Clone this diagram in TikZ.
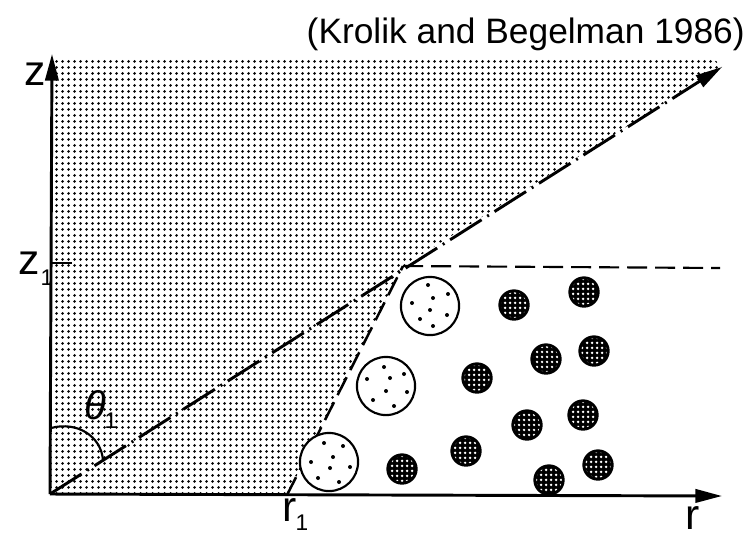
\documentclass[tikz,border=0pt]{standalone}
\usepackage{fontspec}
\setmainfont{Liberation Sans}
\usetikzlibrary{patterns,arrows.meta}

% fine dot screen for the shaded wedge
\pgfdeclarepatternformonly{stipple}{\pgfpointorigin}{\pgfqpoint{4.5pt}{4.5pt}}{\pgfqpoint{4.5pt}{4.5pt}}{%
  \pgfpathcircle{\pgfqpoint{2.25pt}{2.25pt}}{1.25pt}\pgfusepath{fill}}
% light holes inside the dense clouds
\pgfdeclarepatternformonly{holes}{\pgfpointorigin}{\pgfqpoint{3.4pt}{3.4pt}}{\pgfqpoint{3.4pt}{3.4pt}}{%
  \pgfpathcircle{\pgfqpoint{1.7pt}{1.7pt}}{1.1pt}\pgfusepath{fill}}

\begin{document}
\begin{tikzpicture}[x=0.75pt,y=-0.75pt,
  axis/.style={line width=2.2pt,-{Triangle[length=20pt,width=10pt]}},
  sightline/.style={line width=2.2pt,dash pattern=on 28pt off 5pt on 1.5pt off 5pt,
                    -{Triangle[length=20pt,width=10pt]}},
  edgeline/.style={line width=1.9pt,dash pattern=on 15pt off 6pt},
  levelline/.style={line width=1.6pt,dash pattern=on 15pt off 6pt},
  opencloud/.style={line width=1.6pt,fill=white},
  darkcloud/.style={line width=1.5pt,fill=black},
  lbl/.style={font=\fontsize{32}{32}\selectfont,inner sep=0pt},
  sub/.style={font=\fontsize{17}{17}\selectfont,inner sep=0pt}]

\useasboundingbox (0,0) rectangle (748,537);

% key points
\coordinate (O) at (50,494);
\coordinate (Ztip) at (52,54);
\coordinate (Rtip) at (722,496);
\coordinate (Dtip) at (722,67);
\coordinate (P) at (403,266);
\coordinate (R1) at (287,495);
\coordinate (Hend) at (720,268);
\coordinate (Z1) at (51,263);
\coordinate (Z1t) at (72,263);
\coordinate (Th0) at (51,428);
\coordinate (Th1) at (103,460);

% shaded region
\fill[pattern=stipple] (O) -- (51,57) -- (712,57) -- (Dtip) -- (P) -- (R1) -- cycle;

% axes
\draw[axis] (O) -- (Ztip);
\draw[axis] (O) -- (Rtip);
\draw[line width=1.8pt] (Z1) -- (Z1t);

% boundaries
\draw[sightline] (O) -- (Dtip);
\draw[edgeline] (R1) -- (P);
\draw[levelline] (P) -- (Hend);

% opening angle
\draw[line width=1.6pt] (Th0) .. controls (77,421) and (101,436) .. (Th1);

% large open clouds with a few dots
\foreach \cx/\cy in {430/306, 386/386, 329/462}
  \draw[opencloud] (\cx,\cy) circle[radius=21.8pt];
\foreach \px/\py in {428/285,448/294,433/298,412/303,430/310,447/315,420/319,433/326,
                     384/367,404/374,367/379,390/378,386/391,407/392,373/400,394/406,
                     324/443,343/446,333/457,311/462,330/468,350/467,318/478,339/482}
  \fill (\px,\py) circle[radius=1.5pt];

% small dense clouds
\foreach \cx/\cy in {402/469,466/451,477/378,514/305,527/425,546/359,549/480,
                     584/292,594/351,583/415,598/465}{
  \draw[darkcloud] (\cx,\cy) circle[radius=11pt];
  \fill[pattern=holes,pattern color=white] (\cx,\cy) circle[radius=9.6pt];
}

% labels
\node[lbl] (zl) at (35,74) {z};
\node[lbl] (z1l) at (29,263) {z};
\node[sub] (z1s) at (47,278) {1};
\node[lbl] (rl) at (693,518) {r};
\node[lbl] (r1l) at (290,510) {r};
\node[sub] (r1s) at (302,523) {1};
\node[lbl,font=\fontsize{30}{30}\itshape] (thl) at (95,405) {θ};
\node[sub] (ths) at (111,421) {1};

\node[anchor=base east,inner sep=0pt,font=\fontsize{26.5}{26.5}\selectfont] (title) at (745,43)
  {(Krolik and Begelman 1986)};
\end{tikzpicture}
\end{document}
